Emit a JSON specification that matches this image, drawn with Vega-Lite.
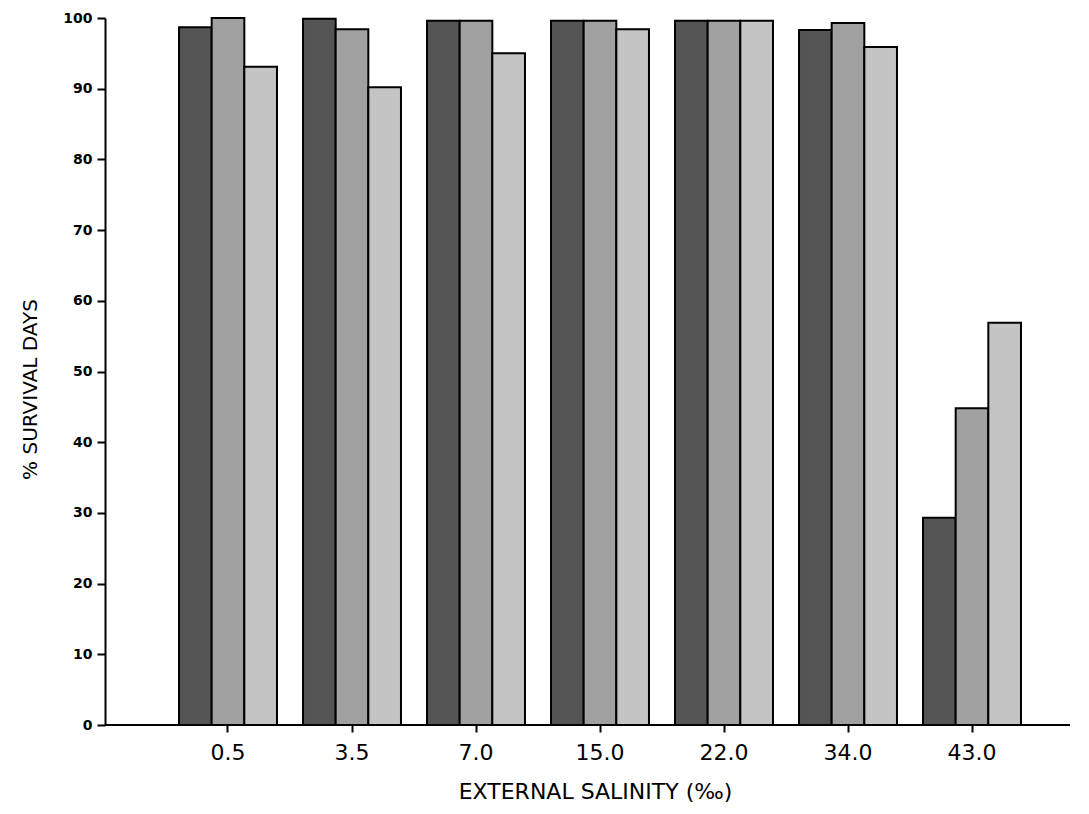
{
  "$schema": "https://vega.github.io/schema/vega-lite/v6.json",
  "autosize": "none",
  "width": 965,
  "height": 707,
  "padding": {"left": 105, "top": 18, "right": 19, "bottom": 89},
  "background": "white",
  "config": {
    "view": {"stroke": null},
    "font": "DejaVu Sans"
  },
  "data": {
    "values": [
      {"salinity": "0.5", "series": "A", "survival": 98.7},
      {"salinity": "0.5", "series": "B", "survival": 100},
      {"salinity": "0.5", "series": "C", "survival": 93.1},
      {"salinity": "3.5", "series": "A", "survival": 99.9},
      {"salinity": "3.5", "series": "B", "survival": 98.4},
      {"salinity": "3.5", "series": "C", "survival": 90.2},
      {"salinity": "7.0", "series": "A", "survival": 99.6},
      {"salinity": "7.0", "series": "B", "survival": 99.6},
      {"salinity": "7.0", "series": "C", "survival": 95.0},
      {"salinity": "15.0", "series": "A", "survival": 99.6},
      {"salinity": "15.0", "series": "B", "survival": 99.6},
      {"salinity": "15.0", "series": "C", "survival": 98.4},
      {"salinity": "22.0", "series": "A", "survival": 99.6},
      {"salinity": "22.0", "series": "B", "survival": 99.6},
      {"salinity": "22.0", "series": "C", "survival": 99.6},
      {"salinity": "34.0", "series": "A", "survival": 98.3},
      {"salinity": "34.0", "series": "B", "survival": 99.3},
      {"salinity": "34.0", "series": "C", "survival": 95.9},
      {"salinity": "43.0", "series": "A", "survival": 29.3},
      {"salinity": "43.0", "series": "B", "survival": 44.8},
      {"salinity": "43.0", "series": "C", "survival": 56.9}
    ]
  },
  "layer": [
    {
      "mark": {"type": "bar", "stroke": "black", "strokeWidth": 2},
      "encoding": {
        "x": {
          "field": "salinity",
          "type": "nominal",
          "sort": ["0.5", "3.5", "7.0", "15.0", "22.0", "34.0", "43.0"],
          "scale": {"range": [61, 929], "paddingInner": 0.21, "paddingOuter": 0.105},
          "axis": {
            "title": "EXTERNAL SALINITY (‰)",
            "titleFont": "DejaVu Sans",
            "titleFontSize": 22,
            "titleFontWeight": "normal",
            "titleColor": "black",
            "titleX": 490,
            "titleY": 66,
            "titleBaseline": "middle",
            "titleAlign": "center",
            "domain": false,
            "ticks": true,
            "tickSize": 7,
            "tickWidth": 2,
            "tickColor": "black",
            "bandPosition": 0.5,
            "labelAngle": 0,
            "labelFont": "DejaVu Sans",
            "labelFontSize": 22,
            "labelColor": "black",
            "labelPadding": 10,
            "grid": false
          }
        },
        "xOffset": {
          "field": "series",
          "type": "nominal",
          "scale": {"paddingInner": 0, "paddingOuter": 0}
        },
        "y": {
          "field": "survival",
          "type": "quantitative",
          "scale": {"domain": [0, 100], "nice": false},
          "axis": {
            "title": "% SURVIVAL DAYS",
            "titleFont": "DejaVu Sans",
            "titleFontSize": 20,
            "titleFontWeight": "normal",
            "titleColor": "black",
            "titleX": -75,
            "titleY": 371,
            "titleAngle": -90,
            "titleBaseline": "middle",
            "titleAlign": "center",
            "values": [0, 10, 20, 30, 40, 50, 60, 70, 80, 90, 100],
            "domain": true,
            "domainColor": "black",
            "domainWidth": 2,
            "tickSize": 8,
            "tickWidth": 2,
            "tickColor": "black",
            "labelFont": "DejaVu Sans",
            "labelFontSize": 14,
            "labelFontWeight": "bold",
            "labelColor": "black",
            "labelPadding": 5,
            "grid": false
          }
        },
        "fill": {
          "field": "series",
          "type": "nominal",
          "scale": {"domain": ["A", "B", "C"], "range": ["#555555", "#a0a0a0", "#c4c4c4"]},
          "legend": null
        }
      }
    },
    {
      "mark": {"type": "rule", "color": "black", "strokeWidth": 2},
      "encoding": {"y": {"datum": 0, "type": "quantitative"}}
    }
  ]
}
